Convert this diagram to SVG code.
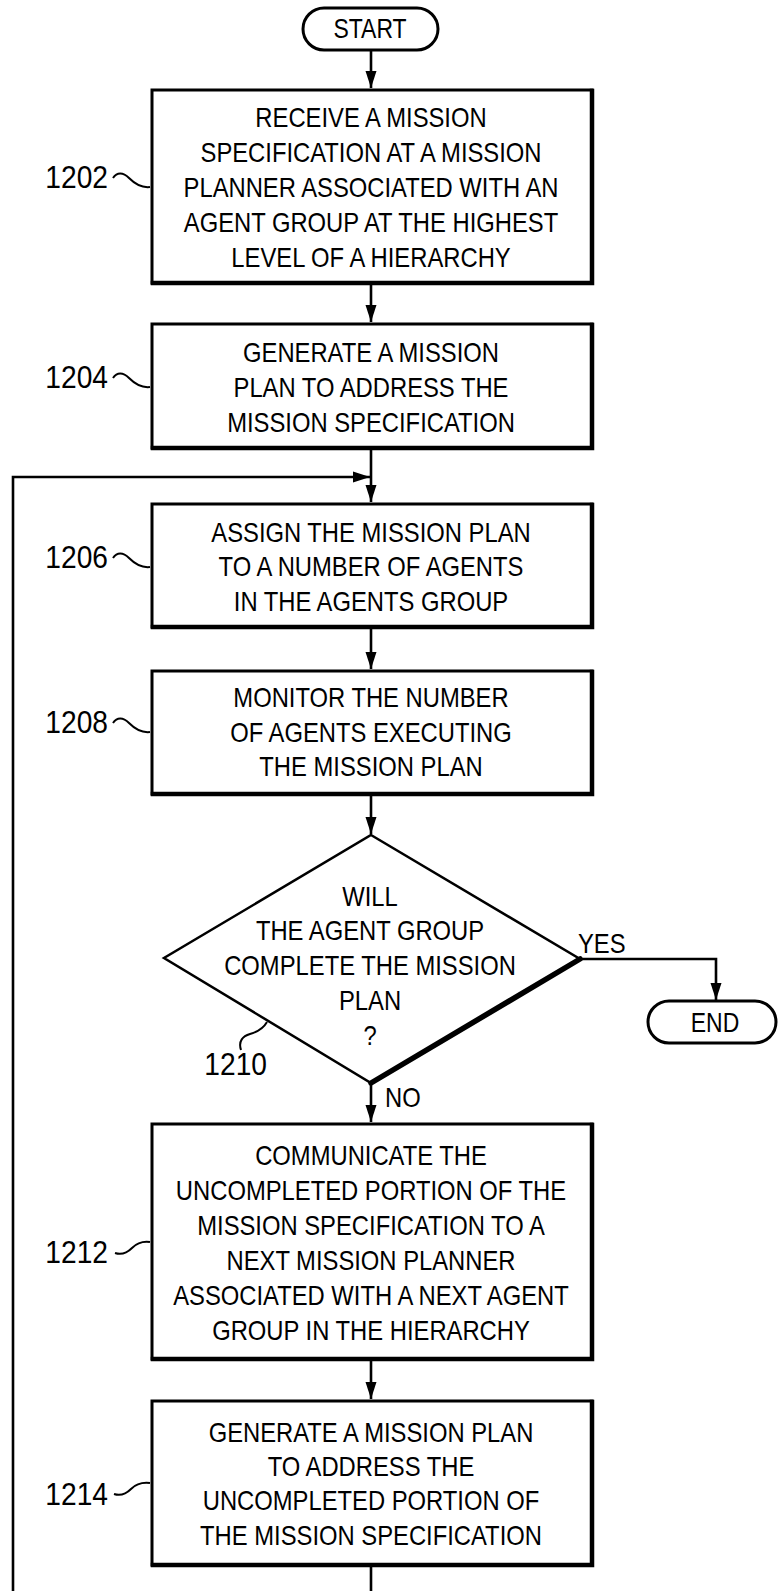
<svg xmlns="http://www.w3.org/2000/svg" width="778" height="1591" viewBox="0 0 778 1591">
<defs>
<style>
.bg{fill:#fff}
.box{fill:#fff;stroke:#000;stroke-width:3}
.shade{fill:none;stroke:#000;stroke-width:4.5;stroke-linecap:square}
.dia{fill:#fff;stroke:#000;stroke-width:2.5;stroke-linejoin:miter}
.diashade{fill:none;stroke:#000;stroke-width:5.5;stroke-linecap:round}
.t{font-family:"Liberation Sans",Arial,sans-serif;font-size:28px;fill:#000;text-anchor:middle}
.lbl{font-family:"Liberation Sans",Arial,sans-serif;font-size:32px;fill:#000;text-anchor:end}
.lead{fill:none;stroke:#000;stroke-width:2}
.conn{fill:none;stroke:#000;stroke-width:2.6}
</style>
<marker id="arr" markerUnits="userSpaceOnUse" markerWidth="18" markerHeight="12" refX="17" refY="6" orient="auto">
<path d="M0,0.5 L17,6 L0,11.5 z" fill="#000"/>
</marker>
</defs>
<rect class="bg" x="0" y="0" width="778" height="1591"/>

<g id="connectors">
<path class="conn" d="M371,50 V88" marker-end="url(#arr)"/>
<path class="conn" d="M371,283 V322" marker-end="url(#arr)"/>
<path class="conn" d="M371,448 V502" marker-end="url(#arr)"/>
<path class="conn" d="M371,1565 V1600 H13 V477 H370" marker-end="url(#arr)"/>
<path class="conn" d="M371,627 V669" marker-end="url(#arr)"/>
<path class="conn" d="M371,794 V834" marker-end="url(#arr)"/>
<path class="conn" d="M580,959 H716 V1000" marker-end="url(#arr)"/>
<path class="conn" d="M371,1083 V1122" marker-end="url(#arr)"/>
<path class="conn" d="M371,1359 V1399" marker-end="url(#arr)"/>
<g transform="translate(578,0) scale(0.85,1)"><text class="t" x="0" y="953" style="text-anchor:start">YES</text></g>
<g transform="translate(385,0) scale(0.85,1)"><text class="t" x="0" y="1107" style="text-anchor:start">NO</text></g>
</g>

<g id="start">
<rect class="box" x="303" y="8" width="135" height="42" rx="21"/>
<g transform="translate(370,0) scale(0.82,1)"><text class="t" x="0" y="38">START</text></g>
</g>

<g id="n1202">
<rect class="box" x="152" y="90" width="440" height="193"/>
<path class="shade" d="M592,91 V283 H153"/>
<g transform="translate(371,0) scale(0.85,1)">
<text class="t" x="0" y="127">RECEIVE A MISSION</text>
<text class="t" x="0" y="162">SPECIFICATION AT A MISSION</text>
<text class="t" x="0" y="197">PLANNER ASSOCIATED WITH AN</text>
<text class="t" x="0" y="232">AGENT GROUP AT THE HIGHEST</text>
<text class="t" x="0" y="267">LEVEL OF A HIERARCHY</text>
</g>
<g transform="translate(108,0) scale(0.88,1)"><text class="lbl" x="0" y="188">1202</text></g>
<path class="lead" d="M113,178 C117,172 123,172 129,178 S142,188 150,187"/>
</g>

<g id="n1204">
<rect class="box" x="152" y="324" width="440" height="124"/>
<path class="shade" d="M592,325 V448 H153"/>
<g transform="translate(371,0) scale(0.85,1)">
<text class="t" x="0" y="362">GENERATE A MISSION</text>
<text class="t" x="0" y="397">PLAN TO ADDRESS THE</text>
<text class="t" x="0" y="432">MISSION SPECIFICATION</text>
</g>
<g transform="translate(108,0) scale(0.88,1)"><text class="lbl" x="0" y="388">1204</text></g>
<path class="lead" d="M113,378 C117,372 123,372 129,378 S142,388 150,387"/>
</g>

<g id="n1206">
<rect class="box" x="152" y="504" width="440" height="123"/>
<path class="shade" d="M592,505 V627 H153"/>
<g transform="translate(371,0) scale(0.85,1)">
<text class="t" x="0" y="542">ASSIGN THE MISSION PLAN</text>
<text class="t" x="0" y="576">TO A NUMBER OF AGENTS</text>
<text class="t" x="0" y="611">IN THE AGENTS GROUP</text>
</g>
<g transform="translate(108,0) scale(0.88,1)"><text class="lbl" x="0" y="568">1206</text></g>
<path class="lead" d="M113,558 C117,552 123,552 129,558 S142,568 150,567"/>
</g>

<g id="n1208">
<rect class="box" x="152" y="671" width="440" height="123"/>
<path class="shade" d="M592,672 V794 H153"/>
<g transform="translate(371,0) scale(0.85,1)">
<text class="t" x="0" y="707">MONITOR THE NUMBER</text>
<text class="t" x="0" y="742">OF AGENTS EXECUTING</text>
<text class="t" x="0" y="776">THE MISSION PLAN</text>
</g>
<g transform="translate(108,0) scale(0.88,1)"><text class="lbl" x="0" y="733">1208</text></g>
<path class="lead" d="M113,723 C117,717 123,717 129,723 S142,733 150,732"/>
</g>

<g id="n1210">
<polygon class="dia" points="371,835 580,959 371,1083 164,958"/>
<path class="diashade" d="M371,1083 L580,959"/>
<g transform="translate(370,0) scale(0.85,1)">
<text class="t" x="0" y="906">WILL</text>
<text class="t" x="0" y="940">THE AGENT GROUP</text>
<text class="t" x="0" y="975">COMPLETE THE MISSION</text>
<text class="t" x="0" y="1010">PLAN</text>
<text class="t" x="0" y="1045">?</text>
</g>
<g transform="translate(267,0) scale(0.88,1)"><text class="lbl" x="0" y="1075">1210</text></g>
<path class="lead" d="M241,1050 C238,1041 243,1036 250,1034 S263,1029 267,1022"/>
</g>

<g id="end">
<rect class="box" x="648" y="1001" width="128" height="42" rx="21"/>
<g transform="translate(715,0) scale(0.82,1)"><text class="t" x="0" y="1032">END</text></g>
</g>

<g id="n1212">
<rect class="box" x="152" y="1124" width="440" height="235"/>
<path class="shade" d="M592,1125 V1359 H153"/>
<g transform="translate(371,0) scale(0.85,1)">
<text class="t" x="0" y="1165">COMMUNICATE THE</text>
<text class="t" x="0" y="1200">UNCOMPLETED PORTION OF THE</text>
<text class="t" x="0" y="1235">MISSION SPECIFICATION TO A</text>
<text class="t" x="0" y="1270">NEXT MISSION PLANNER</text>
<text class="t" x="0" y="1305">ASSOCIATED WITH A NEXT AGENT</text>
<text class="t" x="0" y="1340">GROUP IN THE HIERARCHY</text>
</g>
<g transform="translate(108,0) scale(0.88,1)"><text class="lbl" x="0" y="1263">1212</text></g>
<path class="lead" d="M115,1253 C121,1255 127,1253 132,1248 S143,1241 150,1242"/>
</g>

<g id="n1214">
<rect class="box" x="152" y="1401" width="440" height="164"/>
<path class="shade" d="M592,1402 V1565 H153"/>
<g transform="translate(371,0) scale(0.85,1)">
<text class="t" x="0" y="1442">GENERATE A MISSION PLAN</text>
<text class="t" x="0" y="1476">TO ADDRESS THE</text>
<text class="t" x="0" y="1510">UNCOMPLETED PORTION OF</text>
<text class="t" x="0" y="1545">THE MISSION SPECIFICATION</text>
</g>
<g transform="translate(108,0) scale(0.88,1)"><text class="lbl" x="0" y="1505">1214</text></g>
<path class="lead" d="M114,1494 C120,1496 126,1494 131,1489 S142,1482 150,1483"/>
</g>
</svg>
